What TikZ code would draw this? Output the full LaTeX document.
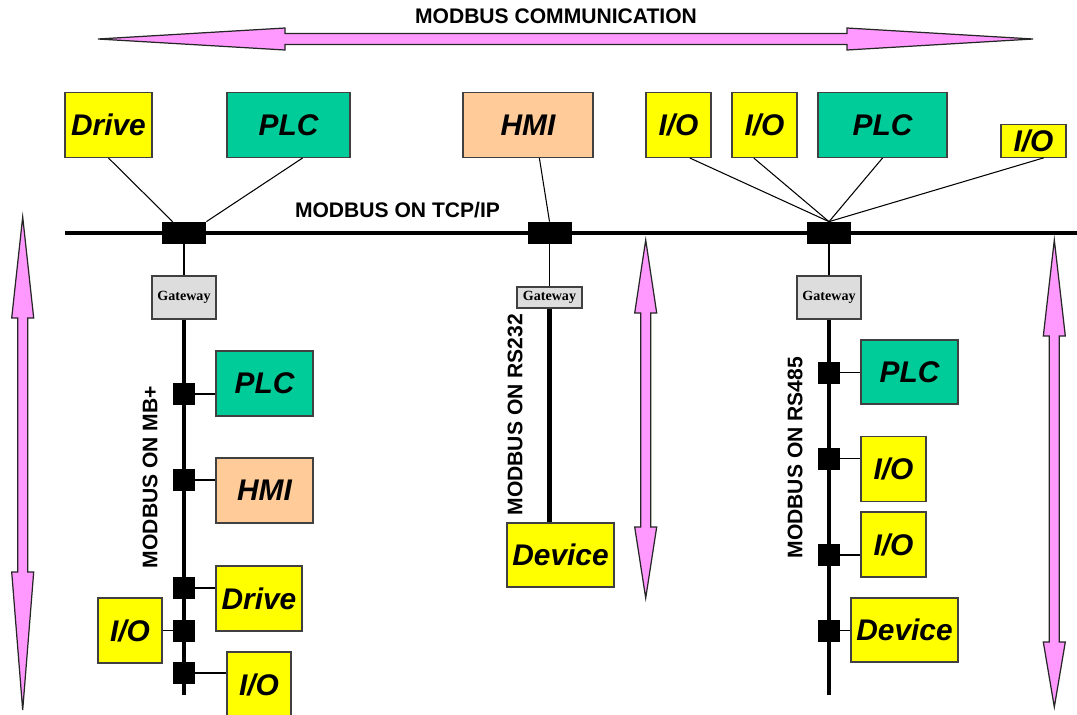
\documentclass[tikz,border=0pt]{standalone}
\usepackage{fontspec}
\setmainfont{Liberation Sans}
\newfontfamily\gwfont{Liberation Serif}
\definecolor{ioyellow}{HTML}{FFFF00}
\definecolor{plcgreen}{HTML}{00CC99}
\definecolor{hmipeach}{HTML}{FFCC99}
\definecolor{gwgray}{HTML}{DDDDDD}
\definecolor{arrowpink}{HTML}{FF99FF}
\tikzset{box size/.style 2 args={minimum width=#1*0.02cm,minimum height=#2*0.02cm}}

\begin{document}
\begin{tikzpicture}[x=0.02cm,y=-0.02cm]
 \tikzstyle{unit} = [draw=black!75,line width=0.6pt,inner sep=0,font=\fontsize{17}{20}\selectfont\bfseries\itshape]
 \tikzstyle{io} = [unit,fill=ioyellow,box size={65}{65}]
 \tikzstyle{plc} = [unit,fill=plcgreen]
 \tikzstyle{hmi} = [unit,fill=hmipeach]
 \tikzstyle{gateway} = [draw=black!75,line width=0.6pt,fill=gwgray,inner sep=0,font=\gwfont\fontsize{8}{9}\selectfont\bfseries]
 \tikzstyle{tap} = [fill=black,inner sep=0,box size={44}{22}]
 \tikzstyle{drop} = [fill=black,inner sep=0,box size={22}{22}]
 \tikzstyle{buslabel} = [inner sep=0,font=\fontsize{12}{14}\selectfont\bfseries]
 \tikzstyle{bus} = [line width=2.8pt]
 \tikzstyle{branch} = [line width=2.6pt]
 \tikzstyle{link} = [line width=0.6pt]
 \tikzstyle{bigarrow} = [draw=black!85,fill=arrowpink,line width=0.7pt]
 \newcommand{\duplexv}[5]{%
  \draw[bigarrow] (#1,#2) -- (#1+11,#3) -- (#1+5,#3) -- (#1+5,#4) -- (#1+11,#4) -- (#1,#5)
     -- (#1-11,#4) -- (#1-5,#4) -- (#1-5,#3) -- (#1-11,#3) -- cycle;}

 \useasboundingbox (0,0) rectangle (1077,714);

% Communication arrows
 \draw[bigarrow] (98,39) -- (285,28) -- (285,33.5) -- (847,33.5) -- (847,28) -- (1033,39)
     -- (847,50) -- (847,44.5) -- (285,44.5) -- (285,50) -- cycle;
 \duplexv{22.7}{217}{318}{572}{710}
 \duplexv{645.7}{240}{313}{527}{598}
 \duplexv{1054.3}{240}{336}{642}{707}

% Bus labels
 \node[buslabel] (commlbl) at (556,16) {MODBUS COMMUNICATION};
 \node[buslabel] (tcplbl) at (397.5,210.5) {MODBUS ON TCP/IP};
 \node[buslabel,rotate=90] (mblbl) at (150,477) {MODBUS ON MB+};
 \node[buslabel,rotate=90] (rs232lbl) at (515,414.7) {MODBUS ON RS232};
 \node[buslabel,rotate=90] (rs485lbl) at (795,457.7) {MODBUS ON RS485};

% TCP/IP backbone
 \coordinate (busL) at (65,233);
 \coordinate (busR) at (1077,233);
 \draw[bus] (busL) -- (busR);
 \node[tap] (tcpA) at (184,233) {};
 \node[tap] (tcpB) at (549.5,233) {};
 \node[tap] (tcpC) at (829,233) {};

% Devices on TCP/IP
 \node[io,fill=ioyellow,box size={87}{65}] (drive1) at (108.5,125) {Drive};
 \node[plc,box size={123}{65}] (plc1) at (288.5,125) {PLC};
 \node[hmi,box size={130}{65}] (hmi1) at (528,125) {HMI};
 \node[io] (io1) at (678.5,125) {I/O};
 \node[io] (io2) at (764.5,125) {I/O};
 \node[plc,box size={129}{65}] (plc2) at (882.5,125) {PLC};
 \node[io,box size={65}{33}] (io3) at (1033.5,140.8) {I/O};

 \draw[link] (drive1.south) -- (tcpA.135);
 \draw[link] (plc1.293) -- (tcpA.north east);
 \draw[link] (hmi1.289) -- (tcpB.north);
 \draw[link] (io1.289) -- (tcpC.north);
 \draw[link] (io2.252) -- (tcpC.north);
 \draw[link] (plc2.south) -- (tcpC.north);
 \draw[link] (io3.301) -- (tcpC.north);

% Gateways
 \node[gateway,box size={64}{43}] (gwA) at (184,297.5) {Gateway};
 \node[gateway,box size={65}{21}] (gwB) at (549.5,297.5) {Gateway};
 \node[gateway,box size={64}{43}] (gwC) at (829,297.5) {Gateway};
 \draw[link] (tcpA.south) -- (gwA.north);
 \draw[link] (tcpB.south) -- (gwB.north);
 \draw[link] (tcpC.south) -- (gwC.north);

% MB+ network
 \coordinate (mbEnd) at (184,695);
 \draw[branch] (gwA.south) -- (mbEnd);
 \node[drop] (mb1) at (184,394) {};
 \node[drop] (mb2) at (184,480) {};
 \node[drop] (mb3) at (184,588) {};
 \node[drop] (mb4) at (184,630.5) {};
 \node[drop] (mb5) at (184,673) {};
 \node[plc,box size={97}{65}] (plc3) at (264.5,383.5) {PLC};
 \node[hmi,box size={97}{65}] (hmi2) at (264.5,490.5) {HMI};
 \node[io,box size={86}{65}] (drive2) at (259,598.5) {Drive};
 \node[io,box size={64}{65}] (io4) at (130,630.5) {I/O};
 \node[io,box size={64}{65}] (io5) at (259,684.5) {I/O};
 \draw[link] (mb1.east) -- (mb1.east -| plc3.west);
 \draw[link] (mb2.east) -- (mb2.east -| hmi2.west);
 \draw[link] (mb3.east) -- (mb3.east -| drive2.west);
 \draw[link] (io4.east |- mb4) -- (mb4.west);
 \draw[link] (mb5.east) -- (mb5.east -| io5.west);

% RS232 link
 \node[io,box size={107}{64}] (dev1) at (560.5,555) {Device};
 \draw[branch] (gwB.south) -- (gwB.south |- dev1.north);

% RS485 network
 \coordinate (rsEnd) at (829,695);
 \draw[branch] (gwC.south) -- (rsEnd);
 \node[drop] (rs1) at (829,372.5) {};
 \node[drop] (rs2) at (829,458.5) {};
 \node[drop] (rs3) at (829,555) {};
 \node[drop] (rs4) at (829,630.5) {};
 \node[plc,box size={97}{64}] (plc4) at (909.5,372) {PLC};
 \node[io] (io6) at (893.5,469) {I/O};
 \node[io] (io7) at (893.5,544.5) {I/O};
 \node[io,box size={107}{64}] (dev2) at (904.5,630) {Device};
 \draw[link] (rs1.east) -- (rs1.east -| plc4.west);
 \draw[link] (rs2.east) -- (rs2.east -| io6.west);
 \draw[link] (rs3.east) -- (rs3.east -| io7.west);
 \draw[link] (rs4.east) -- (rs4.east -| dev2.west);

\end{tikzpicture}
\end{document}
